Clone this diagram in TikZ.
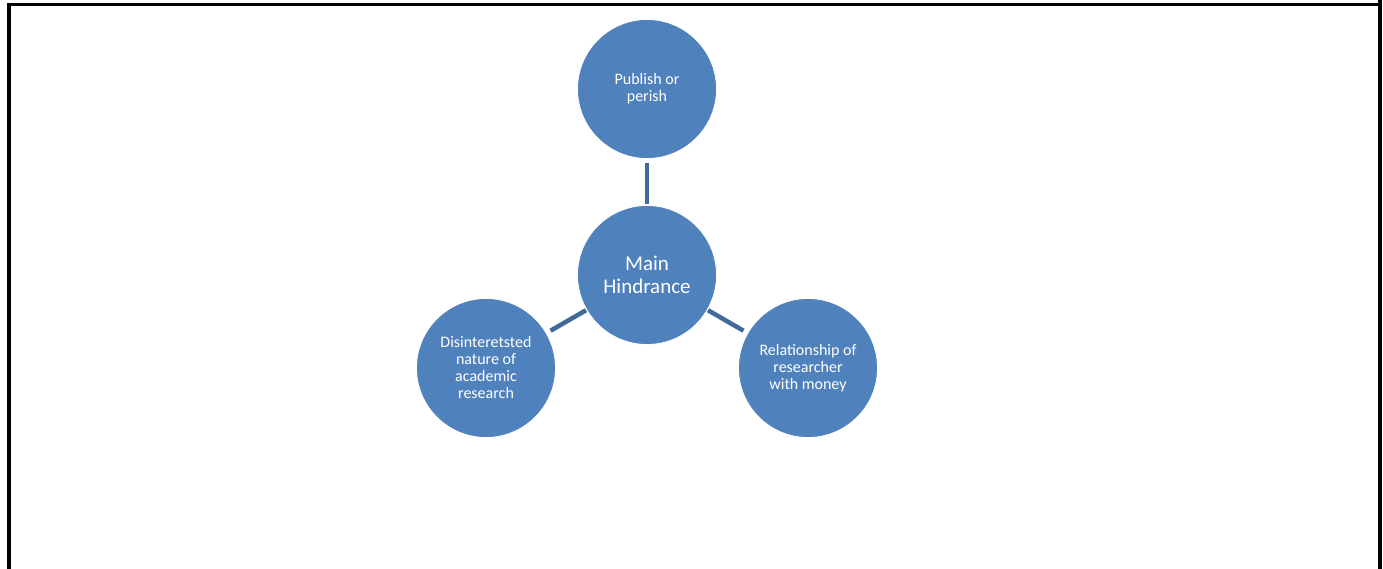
\documentclass[tikz,border=0pt]{standalone}
\usepackage{fontspec}
\setmainfont{Carlito}
\definecolor{circfill}{HTML}{4F81BD}
\definecolor{linkcol}{HTML}{3F6A9A}
\begin{document}
\begin{tikzpicture}[x=1pt,y=-1pt,
  bubble/.style={circle,fill=circfill,draw=white,line width=0.8pt,minimum size=139pt,inner sep=0pt,outer sep=0pt,align=center,text=white,font=\fontsize{16}{17}\selectfont},
  hub/.style={bubble,font=\fontsize{21}{23}\selectfont},
  link/.style={draw=linkcol,line width=4.5pt,shorten <=5pt,shorten >=1pt}]
\useasboundingbox (0,0) rectangle (1383,569);
\fill[white] (0,0) rectangle (1383,569);
\draw[line width=3.5pt] (9,569) -- (9,4.5) -- (1380,4.5);
\draw[line width=4pt] (1380,0) -- (1380,569);
\node[hub] (main) at (647,275) {Main\\Hindrance};
\node[bubble] (top) at (647,89) {Publish or\\perish};
\node[bubble] (left) at (486,368) {Disinteretsted\\nature of\\academic\\research};
\node[bubble] (right) at (808,368) {Relationship of\\researcher\\with money};
\draw[link] (top) -- (main);
\draw[link] (left) -- (main);
\draw[link] (right) -- (main);
\end{tikzpicture}
\end{document}
